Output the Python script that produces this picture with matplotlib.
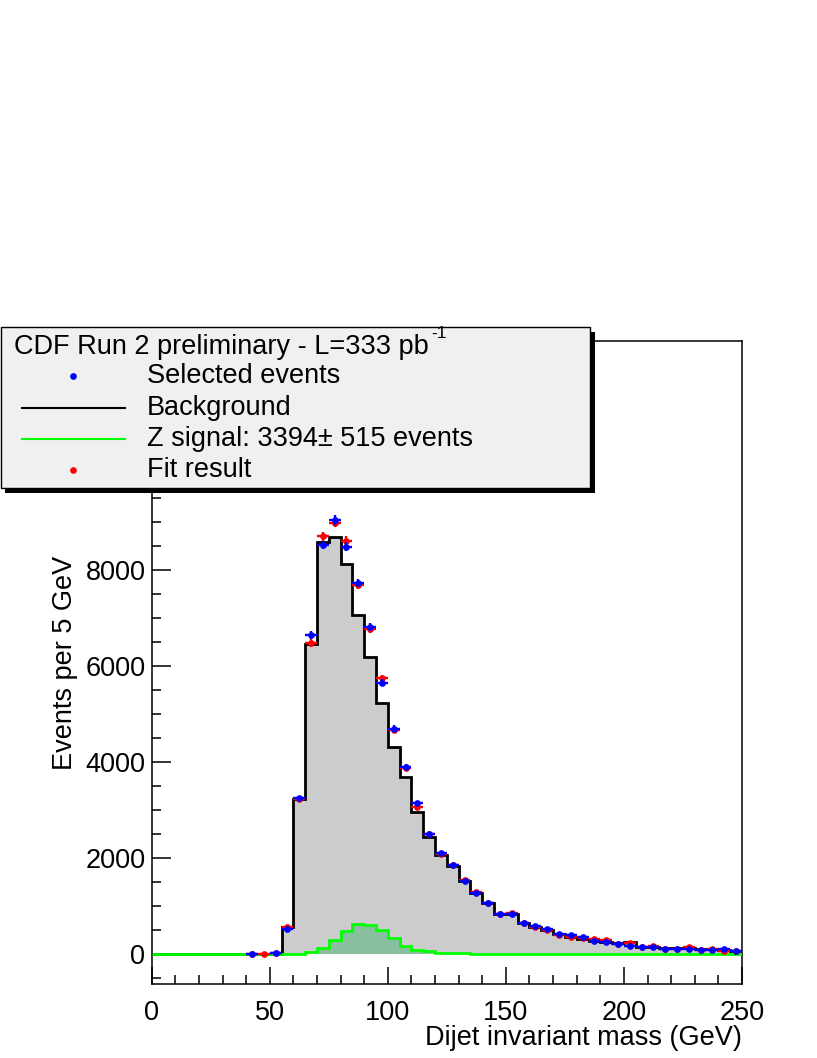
import numpy as np
import matplotlib
matplotlib.use("Agg")
import matplotlib.pyplot as plt
from matplotlib.patches import Rectangle
from matplotlib.lines import Line2D
from matplotlib.ticker import MultipleLocator

plt.rcParams['font.family'] = ['Liberation Sans', 'DejaVu Sans']

# ---------------- data (5 GeV bins, 0-250 GeV) ----------------
bin_edges = np.arange(0, 255, 5)
nan = np.nan

background = [0, 0, 0, 0, 0, 0, 0, 0, 0, 0,
              0, 565, 3223, 6458, 8577, 8694, 8119, 7063, 6181, 5235,
              4319, 3681, 2952, 2431, 2063, 1840, 1521, 1277, 1056, 833,
              833, 640, 569, 500, 417, 360, 306, 277, 244, 223,
              244, 152, 152, 131, 125, 125, 97, 97, 83, 69]

signal = [0, 0, 0, 0, 0, 0, 0, 0, 0, 0,
          0, 0, 7, 35, 125, 285, 472, 625, 611, 507,
          340, 160, 85, 55, 30, 20, 15, 10, 8, 5,
          5, 3, 3, 3, 3, 3, 3, 3, 3, 3,
          3, 3, 3, 3, 3, 3, 3, 3, 3, 3]

selected = [nan, nan, nan, nan, nan, nan, nan, nan, 0, nan,
            15, 520, 3244, 6646, 8521, 9042, 8485, 7735, 6806, 5652,
            4694, 3902, 3140, 2494, 2098, 1854, 1527, 1277, 1056, 833,
            827, 652, 583, 527, 417, 390, 354, 271, 244, 202,
            167, 139, 139, 111, 97, 111, 76, 83, 97, 56]

fit_result = [nan, nan, nan, nan, nan, nan, nan, nan, 0, 0,
              20, 569, 3230, 6473, 8708, 8985, 8610, 7688, 6765, 5744,
              4667, 3869, 3056, 2500, 2093, 1860, 1536, 1287, 1061, 833,
              861, 645, 572, 503, 405, 365, 326, 305, 292, 215,
              236, 150, 167, 97, 111, 153, 80, 97, 69, 60]

x_major_ticks = [0, 50, 100, 150, 200, 250]
y_major_ticks = [0, 2000, 4000, 6000, 8000, 10000, 12000]

title_text = "CDF Run 2 preliminary - L=333 pb"
title_sup = "-1"
legend_labels = ["Selected events", "Background", "Z signal: 3394\u00b1 515 events", "Fit result"]
xlabel_text = "Dijet invariant mass (GeV)"
ylabel_text = "Events per 5 GeV"

# ---------------- figure ----------------
W, H = 817, 1058
fig = plt.figure(figsize=(W / 100, H / 100), dpi=100)
ax_l, ax_r, ax_t, ax_b = 151.7, 742.0, 341.3, 984.3
ax = fig.add_axes([ax_l / W, 1 - ax_b / H, (ax_r - ax_l) / W, (ax_b - ax_t) / H])

bkg = np.array(background, float)
sig = np.array(signal, float)
sel = np.array(selected, float)
fit = np.array(fit_result, float)
centers = 0.5 * (bin_edges[:-1] + bin_edges[1:])
half = 0.5 * np.diff(bin_edges)

ax.stairs(bkg, bin_edges, fill=True, color='#cccccc', zorder=1)
ax.stairs(sig, bin_edges, fill=True, color='#87bf9f', zorder=2)
ax.stairs(bkg, bin_edges, color='black', linewidth=2.0, zorder=3)
ax.stairs(sig, bin_edges, color='#00ff00', linewidth=2.0, zorder=4)

ax.errorbar(centers, fit, xerr=half, yerr=np.sqrt(np.nan_to_num(fit)), fmt='o',
            color='red', markersize=3.8, elinewidth=1.7, capsize=0, zorder=5)
ax.errorbar(centers, sel, xerr=half, yerr=np.sqrt(np.nan_to_num(sel)), fmt='o',
            color='blue', markersize=3.8, elinewidth=1.7, capsize=0, zorder=6)

ax.set_xlim(0, 250)
ax.set_ylim(-630, 12765)
ax.set_xticks(x_major_ticks)
ax.set_yticks(y_major_ticks)
ax.xaxis.set_minor_locator(MultipleLocator(10))
ax.yaxis.set_minor_locator(MultipleLocator(500))
ax.tick_params(which='both', direction='in', top=False, right=False, width=1.1,
               labelsize=19.5)
ax.tick_params(axis='x', which='major', length=12.5, pad=11)
ax.tick_params(axis='x', which='minor', length=6.2)
ax.tick_params(axis='y', which='major', length=14, pad=4.5)
ax.tick_params(axis='y', which='minor', length=6.8)
for s in ax.spines.values():
    s.set_linewidth(1.1)

ax.set_xlabel(xlabel_text, fontsize=19.5, ha='right', va='center')
ax.xaxis.set_label_coords(1.0, -(1038 - ax_b) / (ax_b - ax_t))
ax.set_ylabel(ylabel_text, fontsize=19.5, ha='center', va='center')
ax.yaxis.set_label_coords((65 - ax_l) / (ax_r - ax_l), 0.5)

# ---------------- legend box (pixel overlay) ----------------
ov = fig.add_axes([0, 0, 1, 1], zorder=10)
ov.set_xlim(0, W)
ov.set_ylim(H, 0)
ov.axis('off')
ov.add_patch(Rectangle((5, 332), 590, 161, facecolor='black', edgecolor='none'))
ov.add_patch(Rectangle((0.5, 327), 589.5, 161, facecolor='#f0f0f0', edgecolor='black', linewidth=1.0))
t = ov.text(14, 347, title_text, fontsize=19.5, ha='left', va='center')
fig.canvas.draw()
bb = t.get_window_extent(renderer=fig.canvas.get_renderer())
x_end = bb.x1  # display pixels (same as figure pixels at dpi 100)
ov.text(x_end + 3, 337.5, title_sup, fontsize=12.5, ha='left', va='baseline', clip_on=False)
rows = [376, 408, 439, 470]
ov.add_line(Line2D([73], [rows[0]], marker='o', color='blue', markersize=3.8, linestyle='none'))
ov.add_line(Line2D([22, 125], [rows[1], rows[1]], color='black', linewidth=1.5))
ov.add_line(Line2D([22, 125], [rows[2], rows[2]], color='#00ff00', linewidth=1.5))
ov.add_line(Line2D([73], [rows[3]], marker='o', color='red', markersize=3.8, linestyle='none'))
for yy, lab in zip(rows, legend_labels):
    ov.text(147, yy, lab, fontsize=19.5, ha='left', va='center')

fig.savefig("out.png", dpi=100)
